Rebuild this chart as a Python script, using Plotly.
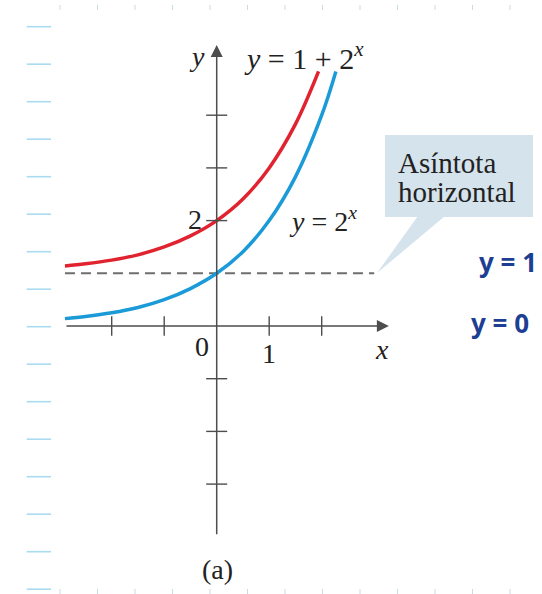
import plotly.graph_objects as go

W, H = 542, 594

# curve samples
x_blue = [-2.89, -2.5, -2.0, -1.5, -1.0, -0.5, 0.0, 0.5, 1.0, 1.5, 2.0, 2.27]
y_blue = [0.14, 0.18, 0.25, 0.35, 0.5, 0.71, 1.0, 1.41, 2.0, 2.83, 4.0, 4.83]
x_red = [-2.89, -2.5, -2.0, -1.5, -1.0, -0.5, 0.0, 0.5, 1.0, 1.5, 1.94]
y_red = [1.14, 1.18, 1.25, 1.35, 1.5, 1.71, 2.0, 2.41, 3.0, 3.83, 4.83]

asym_x = [-2.89, 3.0]
asym_y = [1, 1]

x_ticks = [-2, -1, 1, 2]
y_ticks = [-3, -2, -1, 2, 3, 4]

# pixel -> data mapping of the drawing
ox, oy, ux, uy = 216.7, 326.0, 52.5, 52.7
xr = [-ox / ux, (W - ox) / ux]
yr = [(oy - H) / uy, oy / uy]


def px(x):
    return x / W


def py(y):
    return 1 - y / H


fig = go.Figure()

axis_col = "#4d4d4d"
fig.add_trace(go.Scatter(x=asym_x, y=asym_y, mode="lines",
                         line=dict(color="#6e6e6e", width=2, dash="10px,6px")))
fig.add_trace(go.Scatter(x=x_blue, y=y_blue, mode="lines", line_shape="spline",
                         line=dict(color="#1b9ad8", width=3.5)))
fig.add_trace(go.Scatter(x=x_red, y=y_red, mode="lines", line_shape="spline",
                         line=dict(color="#e0232e", width=3.5)))
fig.add_trace(go.Scatter(x=x_ticks, y=[0] * len(x_ticks), mode="markers",
                         marker=dict(symbol="line-ns-open", size=14, color=axis_col,
                                     line=dict(color=axis_col, width=1.4))))
fig.add_trace(go.Scatter(x=[0] * len(y_ticks), y=y_ticks, mode="markers",
                         marker=dict(symbol="line-ew-open", size=15, color=axis_col,
                                     line=dict(color=axis_col, width=1.4))))

# axes with arrow heads
fig.add_annotation(x=3.28, y=0, ax=-2.89, ay=0, xref="x", yref="y", axref="x", ayref="y",
                   text="", showarrow=True, arrowhead=2, arrowsize=1.6,
                   arrowwidth=1.5, arrowcolor=axis_col)
fig.add_annotation(x=0, y=5.33, ax=0, ay=-3.98, xref="x", yref="y", axref="x", ayref="y",
                   text="", showarrow=True, arrowhead=2, arrowsize=1.6,
                   arrowwidth=1.5, arrowcolor=axis_col)

shapes = []
# notebook paper: left dashes, top and bottom dots
for k in range(16):
    yy = 26.7 + 37.5 * k
    shapes.append(dict(type="line", xref="paper", yref="paper",
                       x0=px(26.7), x1=px(51), y0=py(yy), y1=py(yy),
                       line=dict(color="#a9dcf0", width=1.6)))
for k in range(13):
    xx = 60 + 37.5 * k
    for y0, y1 in ((5, 10), (589, 594)):
        shapes.append(dict(type="line", xref="paper", yref="paper",
                           x0=px(xx), x1=px(xx), y0=py(y0), y1=py(y1),
                           line=dict(color="#c4dce6", width=1)))

# callout box
box_col = "#d4e3ec"
shapes.append(dict(type="rect", xref="paper", yref="paper", layer="below",
                   x0=px(385), x1=px(533), y0=py(135), y1=py(217),
                   fillcolor=box_col, line=dict(width=0)))
shapes.append(dict(type="path", xref="paper", yref="paper", layer="below",
                   path=f"M {px(418)},{py(216)} L {px(445)},{py(216)} L {px(377)},{py(273)} Z",
                   fillcolor=box_col, line=dict(width=0)))

serif = "Liberation Serif"
txt = "#222222"


def label(x, y, s, size=28, xanchor="center", font=serif, color=txt):
    fig.add_annotation(x=px(x), y=py(y), xref="paper", yref="paper", text=s,
                       showarrow=False, xanchor=xanchor, yanchor="middle",
                       font=dict(family=font, size=size, color=color))


label(197, 57, "<i>y</i>")
label(242, 56, "<i>y</i> = 1 + 2<sup><i>x</i></sup>", size=30, xanchor="left")
label(287, 219, "<i>y</i> = 2<sup><i>x</i></sup>", xanchor="left")
label(195, 219, "2")
label(202, 346, "0")
label(269, 353, "1")
label(382, 349, "<i>x</i>")
label(217, 569, "(a)")
label(396, 163, "Asíntota", size=29, xanchor="left")
label(396, 192, "horizontal", size=29, xanchor="left")

hand = "#1d3f93"
label(477, 262, "<b>y = 1</b>", size=26, xanchor="left", font="Noto Sans", color=hand)
label(469, 323, "<b>y = 0</b>", size=26, xanchor="left", font="Noto Sans", color=hand)

fig.update_layout(
    width=W, height=H,
    margin=dict(l=0, r=0, t=0, b=0),
    paper_bgcolor="white", plot_bgcolor="white",
    showlegend=False,
    shapes=shapes,
    xaxis=dict(range=xr, visible=False, domain=[0, 1]),
    yaxis=dict(range=yr, visible=False, domain=[0, 1]),
)

fig.write_html("out.html", config={"displayModeBar": False},
               post_script="document.body.style.margin = '0px';")
